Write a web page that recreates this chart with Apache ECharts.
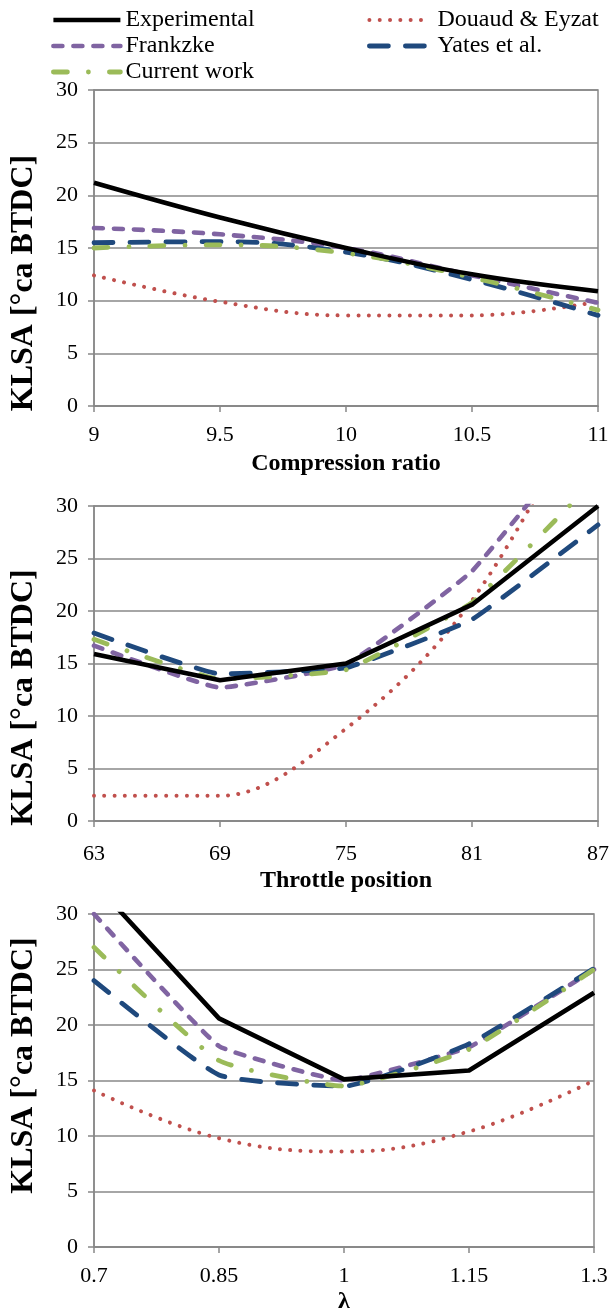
<!DOCTYPE html>
<html>
<head>
<meta charset="utf-8">
<script src="https://cdn.jsdelivr.net/npm/echarts@6/dist/echarts.min.js"></script>
<style>html,body{margin:0;padding:0;background:#fff}#c{width:612px;height:1315px}</style>
</head>
<body>
<div id="c"></div>
<script>
// ---- data ----
const seriesNames = ['Experimental', 'Douaud & Eyzat', 'Frankzke', 'Yates et al.', 'Current work'];

const compressionRatio = [9, 9.5, 10, 10.5, 11];
const crExperimental = [21.2, 17.9, 15.0, 12.5, 10.9];
const crDouaud = [12.4, 9.9, 8.6, 8.6, 9.9];
const crFrankzke = [16.9, 16.3, 15.0, 12.4, 9.8];
const crYates = [15.5, 15.6, 14.6, 12.0, 8.6];
const crCurrent = [15.0, 15.3, 14.5, 12.2, 9.1];
const crTicks = [9, 9.5, 10, 10.5, 11];

const throttle = [63, 69, 75, 81, 87];
const tpExperimental = [15.9, 13.4, 15.0, 20.6, 30.0];
const tpDouaud = [2.4, 2.4, 8.8, 21.0, 42.0];
const tpFrankzke = [16.7, 12.7, 14.9, 23.8, 38.5];
const tpYates = [17.9, 14.0, 14.6, 19.2, 28.2];
const tpCurrent = [17.3, 13.5, 14.4, 20.8, 32.8];
const tpTicks = [63, 69, 75, 81, 87];

const lambda = [0.7, 0.85, 1.0, 1.15, 1.3];
const lamExperimental = [32.8, 20.6, 15.1, 15.9, 22.9];
const lamDouaud = [14.1, 9.8, 8.6, 10.4, 15.0];
const lamFrankzke = [30.0, 18.1, 15.0, 18.0, 25.0];
const lamYates = [24.0, 15.5, 14.5, 18.3, 25.1];
const lamCurrent = [27.0, 16.8, 14.5, 17.8, 25.0];
const lamTicks = [0.7, 0.85, 1, 1.15, 1.3];

const yTicksMax = 30, yInterval = 5;

// ---- styles ----
const FONT = 'Liberation Serif';
const GRID_COLOR = '#888888';
const styles = {
  'Experimental':   { color: '#000000', width: 4.6, type: 'solid', cap: 'butt' },
  'Douaud & Eyzat': { color: '#C0504D', width: 4, type: [0.01, 10.3], cap: 'round' },
  'Frankzke':       { color: '#8064A2', width: 4.6, type: [9, 11], cap: 'round' },
  'Yates et al.':   { color: '#1F497D', width: 4.8, type: [19, 17], cap: 'round' },
  'Current work':   { color: '#9BBB59', width: 4.8, type: [14, 21, 0.01, 21], cap: 'round' }
};

function zip(xs, ys) { return xs.map((x, i) => [x, ys[i]]); }

function mkSeries(name, xs, ys, idx, smooth) {
  const s = styles[name];
  return {
    name: name, type: 'line', xAxisIndex: idx, yAxisIndex: idx,
    data: zip(xs, ys), symbol: 'none', showSymbol: false,
    smooth: smooth, clip: true,
    lineStyle: { color: s.color, width: s.width, type: s.type, cap: s.cap, join: 'round' },
    itemStyle: { color: s.color },
    emphasis: { disabled: true }, animation: false, z: name === 'Experimental' ? 3 : 2
  };
}

function legendItem(name) {
  const s = styles[name];
  return {
    name: name,
    itemStyle: { opacity: 0 },
    lineStyle: { color: s.color, width: s.width, type: s.type, cap: s.cap, opacity: 1 }
  };
}

function mkX(idx, min, max, ticks, name, margin, gap) {
  return {
    type: 'value', gridIndex: idx, min: min, max: max,
    axisLine: { show: true, onZero: false, lineStyle: { color: GRID_COLOR, width: 1.5 } },
    axisTick: { show: true, inside: false, length: 6, customValues: ticks, lineStyle: { color: GRID_COLOR, width: 1.5 } },
    axisLabel: { customValues: ticks, margin: margin, color: '#000', fontFamily: FONT, fontSize: 22 },
    splitLine: { show: false },
    name: name, nameLocation: 'middle', nameGap: gap,
    nameTextStyle: { color: '#000', fontFamily: FONT, fontSize: 24, fontWeight: 'bold' }
  };
}

function mkY(idx, pad) {
  return {
    type: 'value', gridIndex: idx, min: 0, max: yTicksMax, interval: yInterval,
    axisLine: { show: true, lineStyle: { color: GRID_COLOR, width: 1.5 } },
    axisTick: { show: true, inside: false, length: 6, lineStyle: { color: GRID_COLOR, width: 1.5 } },
    axisLabel: { margin: 16, color: '#000', fontFamily: FONT, fontSize: 22 },
    splitLine: { show: true, lineStyle: { color: GRID_COLOR, width: 1.5 } },
    name: 'KLSA [°ca BTDC]', nameLocation: 'middle', nameGap: 54, nameRotate: 90,
    nameTextStyle: { color: '#000', fontFamily: FONT, fontSize: 32, fontWeight: 'bold', padding: pad }
  };
}

const gridBase = { show: true, borderColor: GRID_COLOR, borderWidth: 1.5, backgroundColor: 'transparent' };

const option = {
  animation: false,
  backgroundColor: '#fff',
  legend: [
    {
      left: 46, top: 3, orient: 'vertical', itemWidth: 67, itemHeight: 14, itemGap: 2,
      data: ['Experimental', 'Frankzke', 'Current work'].map(legendItem),
      textStyle: { color: '#000', fontFamily: FONT, fontSize: 24 }, selectedMode: false
    },
    {
      left: 362, top: 3, orient: 'vertical', itemWidth: 58, itemHeight: 14, itemGap: 2,
      data: ['Douaud & Eyzat', 'Yates et al.'].map(legendItem),
      textStyle: { color: '#000', fontFamily: FONT, fontSize: 24, padding: [0, 0, 0, 5] }, selectedMode: false
    }
  ],
  grid: [
    Object.assign({ left: 92, top: 90, width: 506, height: 316 }, gridBase),
    Object.assign({ left: 92, top: 506, width: 506, height: 315 }, gridBase),
    Object.assign({ left: 87, top: 914, width: 507, height: 334 }, gridBase)
  ],
  xAxis: [
    mkX(0, 9, 11, crTicks, 'Compression ratio', 18, 46),
    mkX(1, 63, 87, tpTicks, 'Throttle position', 22, 48),
    mkX(2, 0.7, 1.3, lamTicks, 'λ', 18, 43)
  ],
  yAxis: [ mkY(0, [0, 70, 0, 0]), mkY(1, [0, 68, 0, 0]), mkY(2, [0, 0, 0, 30]) ],
  series: [
    mkSeries('Experimental', compressionRatio, crExperimental, 0, 0.4),
    mkSeries('Douaud & Eyzat', compressionRatio, crDouaud, 0, 0.4),
    mkSeries('Frankzke', compressionRatio, crFrankzke, 0, 0.4),
    mkSeries('Yates et al.', compressionRatio, crYates, 0, 0.4),
    mkSeries('Current work', compressionRatio, crCurrent, 0, 0.4),

    mkSeries('Experimental', throttle, tpExperimental, 1, false),
    mkSeries('Douaud & Eyzat', throttle, tpDouaud, 1, 0.35),
    mkSeries('Frankzke', throttle, tpFrankzke, 1, 0.1),
    mkSeries('Yates et al.', throttle, tpYates, 1, 0.1),
    mkSeries('Current work', throttle, tpCurrent, 1, 0.1),

    mkSeries('Experimental', lambda, lamExperimental, 2, false),
    mkSeries('Douaud & Eyzat', lambda, lamDouaud, 2, 0.4),
    mkSeries('Frankzke', lambda, lamFrankzke, 2, 0.1),
    mkSeries('Yates et al.', lambda, lamYates, 2, 0.15),
    mkSeries('Current work', lambda, lamCurrent, 2, 0.15)
  ]
};

const chart = echarts.init(document.getElementById('c'), null, { renderer: 'canvas' });
chart.setOption(option);
</script>
</body>
</html>
